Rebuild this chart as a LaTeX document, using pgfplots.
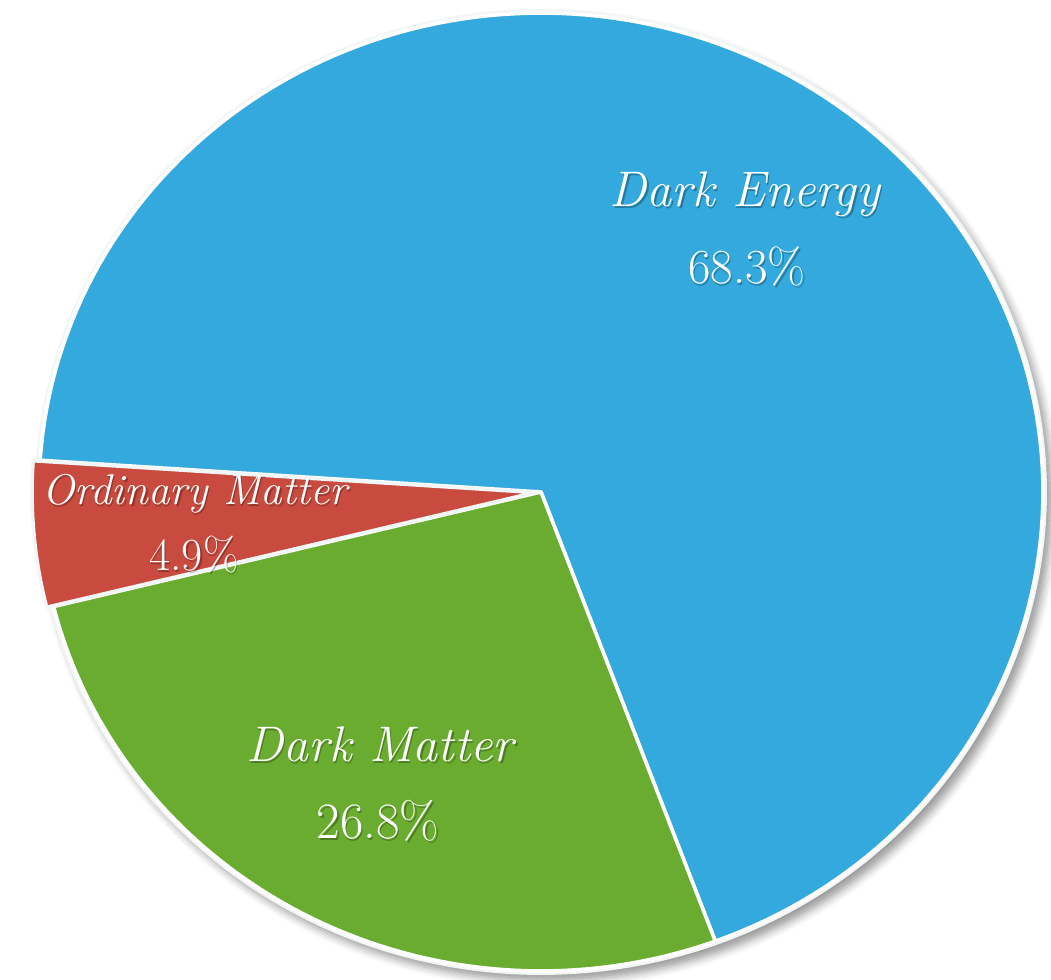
\documentclass[border=0pt]{standalone}
\usepackage{pgfplots}
\pgfplotsset{compat=1.18}
\usetikzlibrary{shadows.blur}

\definecolor{energy}{HTML}{33A9DD}
\definecolor{dmatter}{HTML}{69AC2F}
\definecolor{omatter}{HTML}{C94A3E}
\definecolor{rim}{HTML}{F3F6F6}

% shares of the cosmic energy budget, in percent
\def\shareDE{68.3}
\def\shareDM{26.8}
\def\shareOM{4.9}

% centre and radii of the (slightly oval) pie
\def\cx{541}
\def\cy{-492}
\def\rx{502}
\def\ry{479}

% white label with a soft dark drop shadow
\newcommand{\pielabel}[4]{%
  \node[anchor=base, text=black, opacity=0.28, xshift=0.6pt, yshift=-0.8pt,
        font=\fontsize{#3}{#3}\selectfont] at (axis cs:#1,#2) {#4};
  \node[anchor=base, text=white,
        font=\fontsize{#3}{#3}\selectfont] at (axis cs:#1,#2) {#4};}

\begin{document}
\begin{tikzpicture}
\pgfmathsetmacro{\aA}{176.2}
\pgfmathsetmacro{\aB}{\aA+3.6*\shareOM}
\pgfmathsetmacro{\aC}{\aB+3.6*\shareDM}
\pgfmathsetmacro{\aD}{\aC+3.6*\shareDE}
\begin{axis}[
  width=525.5pt, height=490pt, scale only axis,
  xmin=0, xmax=1051, ymin=-980, ymax=0,
  hide axis, clip=false,
]
\path (rel axis cs:0,0) rectangle (rel axis cs:1,1);

% disc with rim and shadow underneath the wedges
\addplot[fill=rim, draw=rim, line width=1pt, domain=0:360, samples=181, variable=\t,
  blur shadow={shadow xshift=3pt, shadow yshift=-3.5pt, shadow blur radius=4pt, shadow opacity=40}]
  ({\cx+(\rx+3)*cos(t)}, {\cy+(\ry+3)*sin(t)}) -- cycle;

% Dark Energy
\addplot[fill=energy, draw=white, line width=1.8pt, line join=round, domain=\aC:\aD, samples=160, variable=\t]
  ({\cx+\rx*cos(t)}, {\cy+\ry*sin(t)}) -- (axis cs:\cx,\cy) -- cycle;
% Dark Matter
\addplot[fill=dmatter, draw=white, line width=1.8pt, line join=round, domain=\aB:\aC, samples=80, variable=\t]
  ({\cx+\rx*cos(t)}, {\cy+\ry*sin(t)}) -- (axis cs:\cx,\cy) -- cycle;
% Ordinary Matter, pulled slightly out of the pie
\addplot[fill=omatter, draw=rim, line width=1.8pt, line join=round, domain=\aA:\aB, samples=30, variable=\t]
  ({\cx-6+(\rx+1)*cos(t)}, {\cy-0.5+(\ry+1)*sin(t)}) -- (axis cs:\cx-6,\cy-0.5) -- cycle;

\pielabel{745}{-207}{25}{\itshape Dark Energy}
\pielabel{747}{-284}{24.5}{68.3\%}
\pielabel{195}{-505}{21.5}{\itshape Ordinary Matter}
\pielabel{194}{-571}{23}{4.9\%}
\pielabel{380}{-762}{25}{\itshape Dark Matter}
\pielabel{378}{-839}{25.5}{26.8\%}
\end{axis}
\end{tikzpicture}
\end{document}
